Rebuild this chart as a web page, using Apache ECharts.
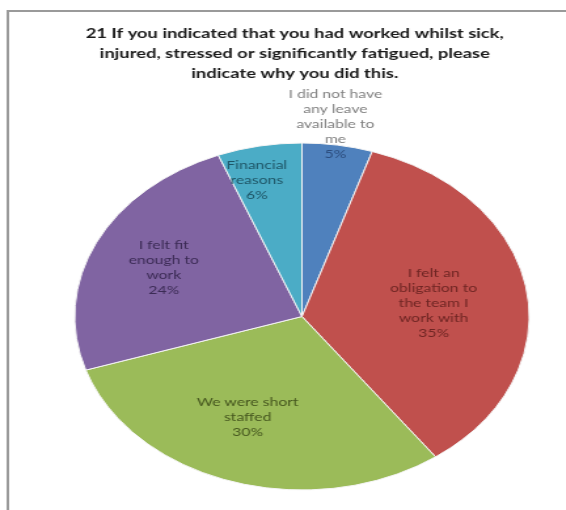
<!DOCTYPE html>
<html>
<head>
<meta charset="utf-8">
<script src="https://cdn.jsdelivr.net/npm/echarts@6/dist/echarts.min.js"></script>
<style>
  html, body { margin: 0; padding: 0; background: #fff; overflow: hidden; }
  #wrap { width: 566px; height: 510px; position: relative; }
  /* the source picture is stretched sideways, so the chart is drawn narrow and widened */
  #main { width: 432px; height: 510px; transform: scaleX(1.31); transform-origin: 0 0; }
</style>
</head>
<body>
<div id="wrap"><div id="main"></div></div>
<script>
var titleLines = [
  '21 If you indicated that you had worked whilst sick,',
  'injured, stressed or significantly fatigued, please',
  'indicate why you did this.'
];
var categories = [
  'I did not have\nany leave\navailable to\nme',
  'I felt an\nobligation to\nthe team I\nwork with',
  'We were short\nstaffed',
  'I felt fit\nenough to\nwork',
  'Financial\nreasons'
];
var percents = [5, 35, 30, 24, 6];
var sliceColors = ['#4f81bd', '#c0504d', '#9bbb59', '#8064a2', '#4bacc6'];
var labelColors = ['#2c4d7e', '#6e2523', '#46571f', '#3b2b55', '#1e5566'];

// label anchor points (chart space, before the sideways stretch)
var labelPos = [[256, 124], [331, 303], [189, 417], [125, 268], [196, 180]];

var chartDom = document.getElementById('main');
var myChart = echarts.init(chartDom, null, { renderer: 'canvas' });

var data = categories.map(function (name, i) {
  var rich;
  if (i === 0) {
    // the first label hangs above the pie in grey, only its value sits in the slice
    rich = '{g|' + name.split('\n').join('}\n{g|') + '}\n{v|' + percents[i] + '%}';
  } else {
    rich = '{t|' + name.split('\n').join('}\n{t|') + '}\n{t|' + percents[i] + '%}';
  }
  return {
    name: name,
    value: percents[i],
    itemStyle: { color: sliceColors[i] },
    label: {
      formatter: rich,
      rich: {
        g: { color: '#7f7f7f', fontSize: 12, lineHeight: 15, fontFamily: 'Lato', align: 'center' },
        v: { color: labelColors[i], fontSize: 12, lineHeight: 15, fontFamily: 'Lato', align: 'center' },
        t: { color: labelColors[i], fontSize: 12, lineHeight: 15, fontFamily: 'Lato', align: 'center' }
      }
    }
  };
});

var option = {
  animation: false,
  title: {
    text: titleLines.join('\n'),
    left: 220,
    top: 18,
    textAlign: 'center',
    textStyle: {
      fontFamily: 'Lato',
      fontSize: 14,
      fontWeight: 'bold',
      color: '#1a1a1a',
      lineHeight: 20
    }
  },
  graphic: [{
    type: 'polyline',
    shape: { points: [[6, 510], [6, 11], [432, 11]] },
    style: { stroke: '#9a9a9a', lineWidth: 2, fill: null }
  }],
  series: [{
    type: 'pie',
    center: [230.5, 316.5],
    radius: [0, 173.5],
    startAngle: 90,
    clockwise: true,
    itemStyle: { borderColor: '#f4f4f4', borderWidth: 1 },
    label: { show: true, position: 'inside' },
    labelLine: { show: false },
    labelLayout: function (params) {
      var p = labelPos[params.dataIndex];
      return { x: p[0], y: p[1], align: 'center', verticalAlign: 'middle', hideOverlap: false };
    },
    emphasis: { disabled: true },
    data: data
  }]
};

myChart.setOption(option);
</script>
</body>
</html>
